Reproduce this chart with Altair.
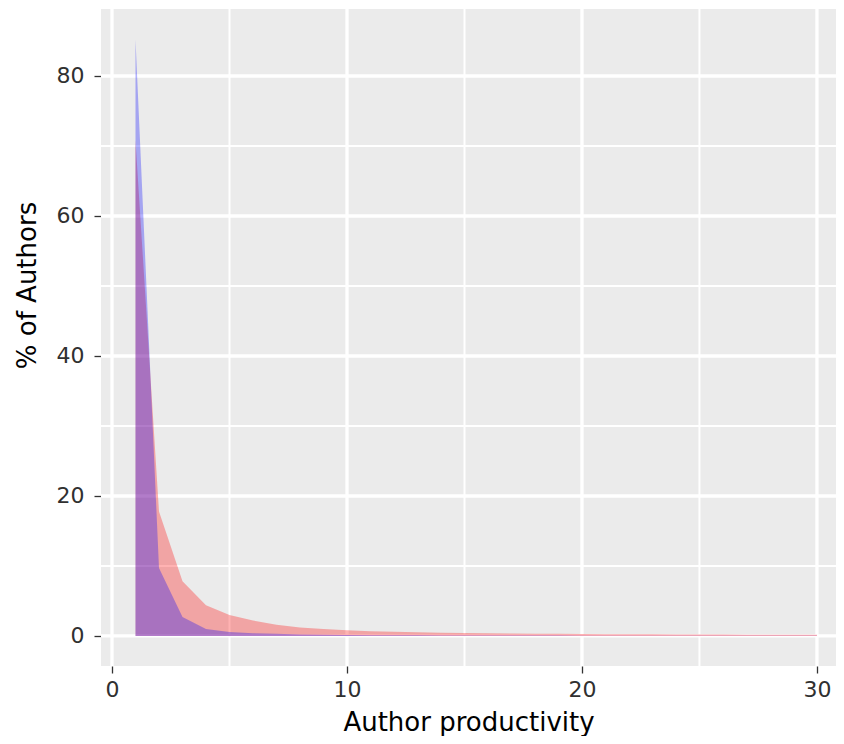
import altair as alt
import pandas as pd

# Author productivity (number of papers) and % of authors for the two groups
productivity = list(range(1, 31))
pct_red = [70.8, 17.8, 7.8, 4.4, 3.0, 2.2, 1.6, 1.2, 1.0, 0.8,
           0.68, 0.6, 0.52, 0.46, 0.42, 0.38, 0.35, 0.32, 0.3, 0.28,
           0.26, 0.25, 0.23, 0.22, 0.21, 0.2, 0.19, 0.18, 0.17, 0.16]
pct_blue = [85.2, 9.7, 2.7, 1.0, 0.55, 0.4, 0.3, 0.22, 0.17, 0.14,
            0.12, 0.1, 0.09, 0.08, 0.07, 0.06, 0.06, 0.05, 0.05, 0.04,
            0.04, 0.04, 0.03, 0.03, 0.03, 0.03, 0.02, 0.02, 0.02, 0.02]

x_major = [0, 10, 20, 30]
x_minor = [5, 15, 25]
y_major = [0, 20, 40, 60, 80]
y_minor = [10, 30, 50, 70]

FONT = "DejaVu Sans"

red_df = pd.DataFrame({"x": productivity, "y": pct_red})
blue_df = pd.DataFrame({"x": productivity, "y": pct_blue})

xscale = alt.Scale(domain=[-0.468, 30.81], nice=False, zero=False)
yscale = alt.Scale(domain=[-4.29, 89.57], nice=False, zero=False)

xaxis = alt.Axis(values=x_major, grid=False, domain=False, tickColor="#333333",
                 tickSize=7, tickWidth=1.3, labelFontSize=22, labelColor="#303030",
                 labelFont=FONT, labelPadding=6, title="Author productivity",
                 titleFont=FONT, titleFontSize=26, titleFontWeight="normal",
                 titleColor="#000000", titlePadding=9)
yaxis = alt.Axis(values=y_major, grid=False, domain=False, tickColor="#333333",
                 tickSize=7, tickWidth=1.3, labelFontSize=22, labelColor="#303030",
                 labelFont=FONT, labelPadding=10, title="% of Authors",
                 titleFont=FONT, titleFontSize=26, titleFontWeight="normal",
                 titleColor="#000000", titlePadding=16, titleY=276)

vminor = alt.Chart(pd.DataFrame({"v": x_minor})).mark_rule(color="white", strokeWidth=2).encode(
    x=alt.X("v:Q", scale=xscale, axis=xaxis))
vmajor = alt.Chart(pd.DataFrame({"v": x_major})).mark_rule(color="white", strokeWidth=3.3).encode(
    x=alt.X("v:Q", scale=xscale, axis=xaxis))
hminor = alt.Chart(pd.DataFrame({"v": y_minor})).mark_rule(color="white", strokeWidth=2).encode(
    y=alt.Y("v:Q", scale=yscale, axis=yaxis))
hmajor = alt.Chart(pd.DataFrame({"v": y_major})).mark_rule(color="white", strokeWidth=3.3).encode(
    y=alt.Y("v:Q", scale=yscale, axis=yaxis))

red_area = alt.Chart(red_df).mark_area(color="red", opacity=0.3).encode(
    x=alt.X("x:Q", scale=xscale, axis=xaxis),
    y=alt.Y("y:Q", scale=yscale, axis=yaxis),
)
blue_area = alt.Chart(blue_df).mark_area(color="blue", opacity=0.3).encode(
    x=alt.X("x:Q", scale=xscale, axis=xaxis),
    y=alt.Y("y:Q", scale=yscale, axis=yaxis),
)

chart = alt.layer(vminor, vmajor, hminor, hmajor, red_area, blue_area).properties(
    width=735, height=657,
    autosize=alt.AutoSizeParams(type="none"),
    padding={"left": 93, "top": 1, "right": 0, "bottom": 70},
    background="white",
).configure_view(fill="#EBEBEB", strokeWidth=0)

chart.save("out.html", embed_options={"renderer": "svg", "actions": False})
